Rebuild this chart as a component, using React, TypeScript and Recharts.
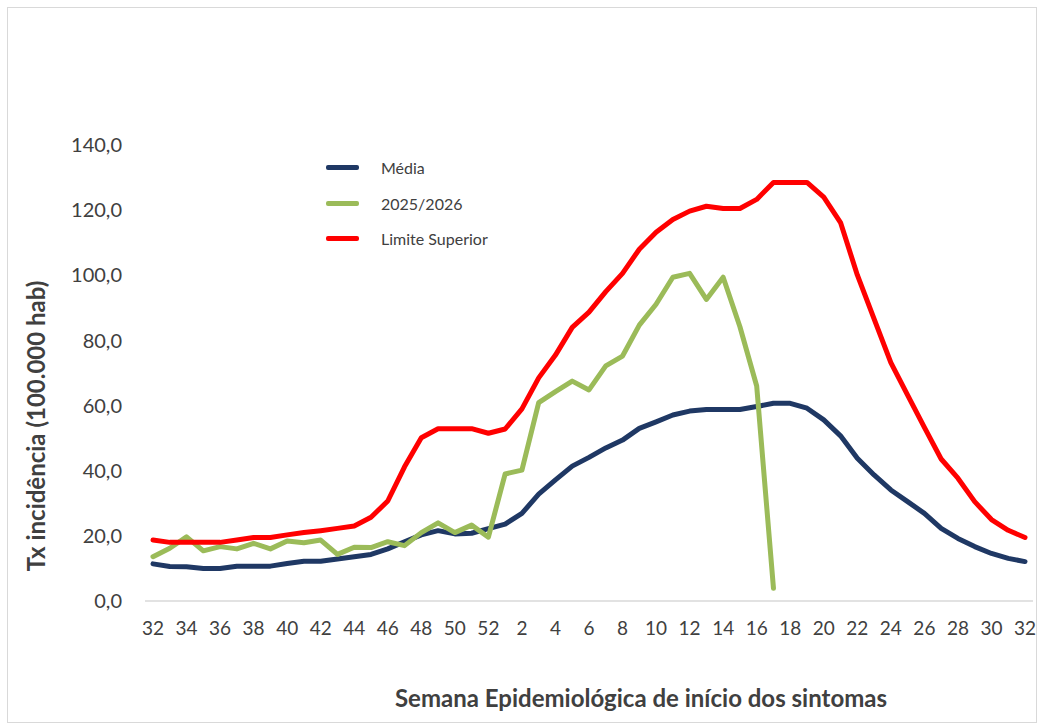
import React from 'react'
import { LineChart, Line, XAxis, YAxis, CartesianGrid } from 'recharts'

// semanas epidemiológicas 32..52 e 1..32
const weeks = [
  '32', '33', '34', '35', '36', '37', '38', '39', '40', '41', '42', '43', '44', '45', '46', '47', '48', '49', '50', '51', '52',
  '1', '2', '3', '4', '5', '6', '7', '8', '9', '10', '11', '12', '13', '14', '15', '16', '17', '18', '19', '20',
  '21', '22', '23', '24', '25', '26', '27', '28', '29', '30', '31', '32',
]

const media = [
  11.4, 10.6, 10.5, 10.0, 10.0, 10.7, 10.7, 10.7, 11.5, 12.2, 12.2, 12.9, 13.6, 14.3, 16.0, 18.2, 20.3, 21.6, 20.6, 20.8, 22.2,
  23.6, 26.9, 32.8, 37.2, 41.4, 44.1, 47.0, 49.4, 53.0, 55.0, 57.1, 58.3, 58.8, 58.8, 58.8, 59.7, 60.7, 60.7, 59.2, 55.6,
  50.7, 43.8, 38.7, 34.1, 30.5, 26.9, 22.3, 19.2, 16.7, 14.6, 13.1, 12.1,
]

const atual: (number | null)[] = [
  13.6, 16.2, 19.7, 15.4, 16.7, 16.0, 17.7, 16.0, 18.4, 17.9, 18.7, 14.3, 16.5, 16.4, 18.2, 17.0, 21.0, 24.0, 21.0, 23.3, 19.6,
  39.0, 40.2, 60.9, 64.3, 67.5, 64.8, 72.2, 75.2, 84.7, 91.1, 99.4, 100.6, 92.6, 99.4, 84.2, 66.0, 3.9, null, null, null,
  null, null, null, null, null, null, null, null, null, null, null, null,
]

const limite = [
  18.7, 18.0, 18.0, 18.0, 18.0, 18.7, 19.5, 19.5, 20.3, 21.0, 21.6, 22.3, 23.0, 25.7, 30.7, 41.2, 50.1, 52.9, 52.9, 52.9, 51.5,
  52.8, 59.0, 68.5, 75.5, 84.0, 88.7, 95.0, 100.6, 108.0, 113.2, 117.1, 119.7, 121.2, 120.5, 120.5, 123.3, 128.5, 128.5, 128.5, 124.0,
  116.2, 100.1, 86.6, 73.2, 63.2, 53.3, 43.6, 37.7, 30.5, 25.0, 21.7, 19.5,
]

const yTicks = [0, 20, 40, 60, 80, 100, 120, 140]

const series = [
  { key: 'media', name: 'Média', color: '#1f3864' },
  { key: 'atual', name: '2025/2026', color: '#9bbb59' },
  { key: 'limite', name: 'Limite Superior', color: '#ff0000' },
]

const data = weeks.map((w, i) => ({
  week: w,
  media: media[i],
  atual: atual[i],
  limite: limite[i],
}))

const font = 'Lato, "Noto Sans", sans-serif'
const textColor = '#404040'

export default function App() {
  return (
    <div
      style={{
        position: 'absolute',
        left: 7,
        top: 7,
        width: 1028,
        height: 714,
        border: '1px solid #d9d9d9',
        background: '#fff',
        fontFamily: font,
      }}
    >
      <LineChart
        width={1028}
        height={714}
        data={data}
        margin={{ top: 137, right: 3, bottom: 81, left: 77 }}
      >
        <CartesianGrid horizontal={false} vertical={false} />
        <XAxis
          dataKey="week"
          interval={1}
          padding={{ left: 8, right: 8 }}
          height={40}
          tickLine={false}
          tickSize={0}
          tickMargin={21}
          axisLine={{ stroke: '#d9d9d9', strokeWidth: 1.5 }}
          tick={{ fill: textColor, fontSize: 19, fontFamily: font }}
        />
        <YAxis
          width={60}
          domain={[0, 140]}
          ticks={yTicks}
          interval={0}
          axisLine={false}
          tickLine={false}
          tickSize={0}
          tickMargin={23}
          tickFormatter={(v: number) => v.toFixed(1).replace('.', ',')}
          tick={{ fill: textColor, fontSize: 20, fontFamily: font }}
        />
        {series.map((s) => (
          <Line
            key={s.key}
            type="linear"
            dataKey={s.key}
            name={s.name}
            stroke={s.color}
            strokeWidth={5}
            strokeLinecap="round"
            strokeLinejoin="round"
            dot={false}
            activeDot={false}
            connectNulls={false}
            isAnimationActive={false}
          />
        ))}
      </LineChart>

      {/* legenda */}
      <div style={{ position: 'absolute', left: 318, top: 142 }}>
        {series.map((s) => (
          <div key={s.key} style={{ display: 'flex', alignItems: 'center', height: 35.5 }}>
            <div style={{ width: 33, height: 5, borderRadius: 2, background: s.color }} />
            <span style={{ marginLeft: 22, fontSize: 16, color: textColor }}>{s.name}</span>
          </div>
        ))}
      </div>

      {/* título eixo Y */}
      <div
        style={{
          position: 'absolute',
          left: 27,
          top: 418,
          width: 0,
          height: 0,
        }}
      >
        <div
          style={{
            position: 'absolute',
            transform: 'translate(-50%, -50%) rotate(-90deg)',
            whiteSpace: 'nowrap',
            fontSize: 24,
            fontWeight: 700,
            color: textColor,
          }}
        >
          Tx incidência (100.000 hab)
        </div>
      </div>

      {/* título eixo X */}
      <div
        style={{
          position: 'absolute',
          left: 633,
          top: 689,
          width: 0,
          height: 0,
        }}
      >
        <div
          style={{
            position: 'absolute',
            transform: 'translate(-50%, -50%)',
            whiteSpace: 'nowrap',
            fontSize: 24,
            fontWeight: 700,
            color: textColor,
          }}
        >
          Semana Epidemiológica de início dos sintomas
        </div>
      </div>
    </div>
  )
}
